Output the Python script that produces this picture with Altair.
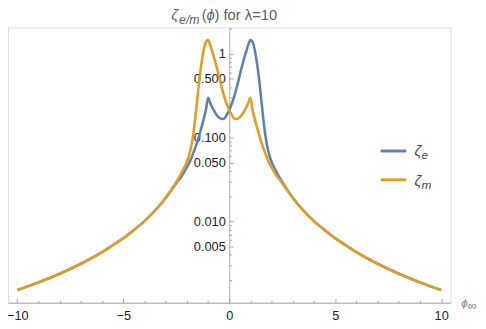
import altair as alt
import pandas as pd

# ---------------- data ----------------
phi = [-10, -9, -8, -7, -6, -5.5, -5, -4.5, -4, -3.5, -3, -2.75,
       -2.5, -2.4, -2.3, -2.2, -2.1, -2.0, -1.9, -1.8, -1.7, -1.6, -1.5, -1.4, -1.3, -1.2, -1.1,
       -1.0, -0.9, -0.8, -0.7, -0.6, -0.5, -0.4, -0.3, -0.2, -0.1, 0.0,
       0.1, 0.2, 0.3, 0.4, 0.5, 0.6, 0.7, 0.8, 0.9, 1.0,
       1.1, 1.2, 1.3, 1.4, 1.5, 1.6, 1.7, 1.8, 1.9, 2.0, 2.1, 2.2, 2.3, 2.4, 2.5,
       2.75, 3, 3.5, 4, 4.5, 5, 5.5, 6, 7, 8, 9, 10]

zeta_e = [0.00152, 0.00188, 0.00238, 0.00313, 0.0043, 0.0052, 0.0063, 0.0079, 0.0101, 0.0135, 0.019, 0.0232,
          0.0285, 0.031, 0.033, 0.036, 0.040, 0.044, 0.049, 0.056, 0.065, 0.076, 0.09, 0.11, 0.135, 0.168, 0.215,
          0.297, 0.26, 0.228, 0.205, 0.187, 0.175, 0.168, 0.166, 0.172, 0.19, 0.212,
          0.245, 0.29, 0.35, 0.44, 0.56, 0.70, 0.87, 1.06, 1.28, 1.45,
          1.38, 1.12, 0.80, 0.52, 0.30, 0.175, 0.108, 0.077, 0.061, 0.051, 0.045, 0.040, 0.036, 0.0325, 0.0295,
          0.0236, 0.0192, 0.0135, 0.0101, 0.0079, 0.0063, 0.0052, 0.0043, 0.00313, 0.00238, 0.00188, 0.00152]

zeta_m = [0.00152, 0.00188, 0.00238, 0.00313, 0.0043, 0.0052, 0.0063, 0.0079, 0.0101, 0.0135, 0.0192, 0.0236,
          0.0295, 0.0325, 0.036, 0.040, 0.045, 0.051, 0.061, 0.077, 0.108, 0.175, 0.30, 0.52, 0.80, 1.12, 1.38,
          1.45, 1.28, 1.06, 0.87, 0.70, 0.56, 0.44, 0.35, 0.29, 0.245, 0.212,
          0.19, 0.172, 0.166, 0.168, 0.175, 0.187, 0.205, 0.228, 0.26, 0.297,
          0.215, 0.168, 0.135, 0.11, 0.09, 0.076, 0.065, 0.056, 0.049, 0.044, 0.040, 0.036, 0.033, 0.031, 0.0285,
          0.0232, 0.019, 0.0135, 0.0101, 0.0079, 0.0063, 0.0052, 0.0043, 0.00313, 0.00238, 0.00188, 0.00152]

series_names = ["ze", "zm"]
series_colors = ["#5E81B5", "#E19C24"]

y_major = [0.005, 0.01, 0.05, 0.1, 0.5, 1]
y_minor = [0.002, 0.003, 0.004, 0.006, 0.007, 0.008, 0.009,
           0.02, 0.03, 0.04, 0.06, 0.07, 0.08, 0.09,
           0.2, 0.3, 0.4, 0.6, 0.7, 0.8, 0.9, 2]
x_major = [-10, -5, 0, 5, 10]
x_minor = [-9, -8, -7, -6, -4, -3, -2, -1, 1, 2, 3, 4, 6, 7, 8, 9]

# ---------------- layout ----------------
W, H = 450, 280
x_dom = [-10.44, 10.44]
y_dom = [0.001074, 2.056]
x0 = W * (0 - x_dom[0]) / (x_dom[1] - x_dom[0])  # pixel of phi = 0

FONT = "Liberation Sans"
AXIS_GRAY = "#a8a8a8"

n = len(phi)
df = pd.DataFrame({
    "phi": phi + phi,
    "zeta": zeta_e + zeta_m,
    "series": [series_names[0]] * n + [series_names[1]] * n,
})

xscale = alt.Scale(domain=x_dom, nice=False, zero=False)
yscale = alt.Scale(type="log", domain=y_dom, nice=False)

lines = alt.Chart(df).mark_line(strokeWidth=2.6, interpolate="monotone").encode(
    x=alt.X("phi:Q", scale=xscale, title=None,
            axis=alt.Axis(orient="bottom", values=x_major, ticks=False, tickSize=0, domain=False,
                          grid=False, labelPadding=7, labelFontSize=13, labelFont=FONT,
                          labelColor="#222222", labelFlush=False, labelOverlap=False)),
    y=alt.Y("zeta:Q", scale=yscale, title=None,
            axis=alt.Axis(orient="left", offset=-x0, values=y_major, ticks=False, tickSize=0,
                          domain=False, grid=False, labelPadding=4, labelFontSize=13, labelFont=FONT,
                          labelColor="#222222", labelOverlap=False, labelFlush=False,
                          labelExpr="datum.value >= 1 ? '1' : format(datum.value, '.3f')")),
    color=alt.Color("series:N", scale=alt.Scale(domain=series_names, range=series_colors), legend=None),
)

tick_axes = alt.Chart(df).mark_line(opacity=0).encode(
    x=alt.X("phi:Q", scale=xscale, title=None,
            axis=alt.Axis(orient="top", offset=-H, values=x_major + x_minor, labels=False,
                          domain=True, domainColor=AXIS_GRAY, domainWidth=1, tickColor=AXIS_GRAY,
                          tickSize={"condition": {"test": "datum.value % 5 == 0", "value": 4.5}, "value": 2.5},
                          grid=False)),
    y=alt.Y("zeta:Q", scale=yscale, title=None,
            axis=alt.Axis(orient="right", offset=-(W - x0), values=y_major + y_minor, labels=False,
                          domain=True, domainColor=AXIS_GRAY, domainWidth=1, tickColor=AXIS_GRAY,
                          tickSize={"condition": {"test": "indexof([0.005,0.01,0.05,0.1,0.5,1], datum.value) >= 0",
                                                  "value": 4}, "value": 2.5},
                          grid=False)),
    detail="series:N",
)

one = pd.DataFrame({"a": [0]})


def txt(s, x, y, size, color, italic=False):
    return alt.Chart(one).mark_text(text=s, font=FONT, fontSize=size, color=color,
                                    fontStyle="italic" if italic else "normal",
                                    align="left", baseline="alphabetic").encode(
        x=alt.value(x), y=alt.value(y))


TITLE_GRAY = "#606060"
title_parts = [
    txt("ζ", 166, -7.5, 15, TITLE_GRAY, True),
    txt("e/m", 174, -3, 12.5, TITLE_GRAY, True),
    txt("(", 197, -7.5, 15, TITLE_GRAY),
    txt("ϕ", 202, -7.5, 15, TITLE_GRAY, True),
    txt(") for λ=10", 210, -7.5, 15, TITLE_GRAY),
]

axis_label = [
    txt("ϕ", 461, 284.5, 12, "#808080", True),
    txt("∞", 467.5, 287.5, 13, "#808080"),
]


def swatch(y, color):
    return alt.Chart(one).mark_rule(strokeWidth=3, color=color).encode(
        x=alt.value(379), x2=alt.value(405), y=alt.value(y))


LEG = "#444444"
legend = [
    swatch(125.7, series_colors[0]),
    txt("ζ", 413.5, 131, 15, LEG, True),
    txt("e", 420.5, 134, 12, LEG, True),
    swatch(155, series_colors[1]),
    txt("ζ", 413.5, 161, 15, LEG, True),
    txt("m", 420.5, 164, 12, LEG, True),
]

chart = alt.layer(tick_axes, lines, *title_parts, *axis_label, *legend).resolve_axis(
    x="independent", y="independent"
).properties(
    width=W, height=H,
    autosize=alt.AutoSizeParams(type="none"),
    padding={"left": 0, "top": 17, "right": 28, "bottom": 24},
).configure_view(stroke=None).configure(background="white")

chart.save("out.html", embed_options={"renderer": "svg", "actions": False})
